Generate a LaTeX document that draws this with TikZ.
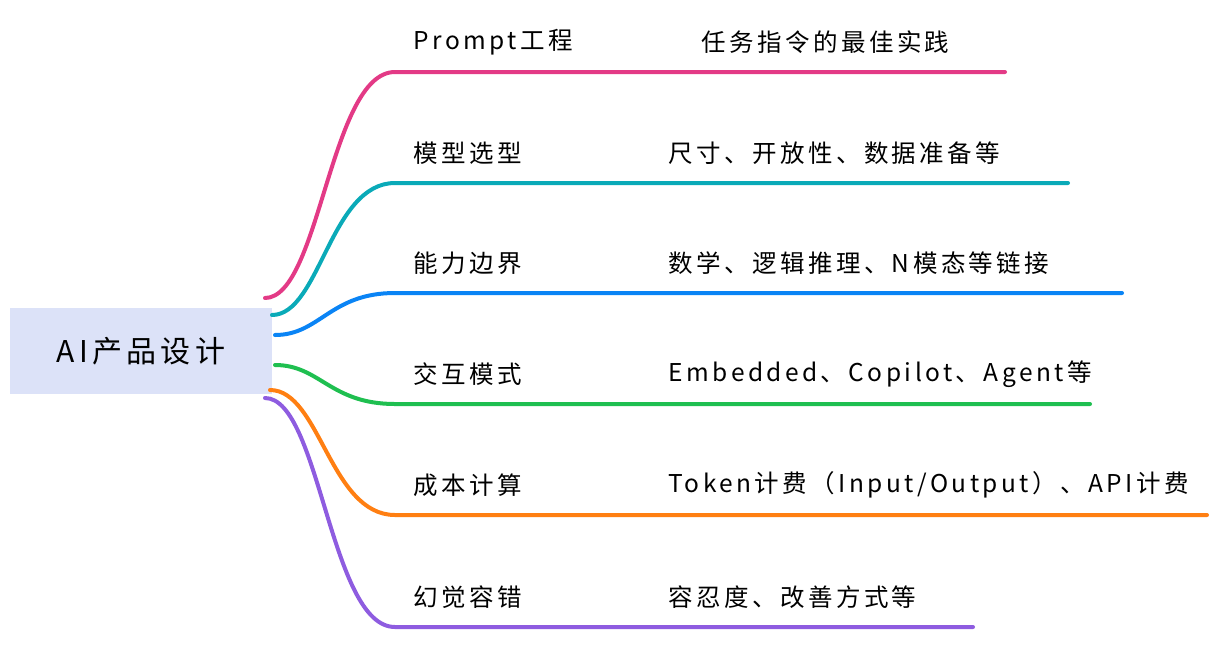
\documentclass[tikz,border=0pt]{standalone}
\usepackage{fontspec}
\setmainfont[LetterSpace=14]{Noto Sans CJK SC}
\usetikzlibrary{positioning}
\definecolor{cpink}{HTML}{E33A86}
\definecolor{cteal}{HTML}{0AAAB8}
\definecolor{cblue}{HTML}{0A84F5}
\definecolor{cgreen}{HTML}{1FBF50}
\definecolor{corange}{HTML}{FF7F12}
\definecolor{cpurple}{HTML}{8E5CE0}
\definecolor{rootfill}{HTML}{DCE2F8}
\tikzset{
  branch/.style={line width=4pt,line cap=round},
  label/.style={anchor=west,font=\fontsize{24.5}{26}\selectfont},
}
\begin{document}
\begin{tikzpicture}[x=1pt,y=-1pt]
  \useasboundingbox (0,0) rectangle (1215,670);
  \node[fill=rootfill,minimum width=262pt,minimum height=86pt,font=\fontsize{30}{32}\selectfont] (root) at (141,351) {AI产品设计};

  \foreach \i/\c/\y/\sx/\sy/\xe/\vx/\ka/\kb in {
      1/cpink/72/265/298/1005/698/{Prompt工程}/{任务指令的最佳实践},
      2/cteal/183/272/315/1068/665/{模型选型}/{尺寸、开放性、数据准备等},
      3/cblue/293/275/335/1122/665/{能力边界}/{数学、逻辑推理、N模态等链接},
      4/cgreen/404/275/365/1090/665/{交互模式}/{Embedded、Copilot、Agent等},
      5/corange/515/270/390/1207/665/{成本计算}/{Token计费（Input{/}Output）、API计费},
      6/cpurple/627/265/398/973/665/{幻觉容错}/{容忍度、改善方式等}}{
    \coordinate (s\i) at (\sx,\sy);
    \coordinate (m\i) at (395,\y);
    \coordinate (e\i) at (\xe,\y);
    \draw[branch,\c] (s\i) .. controls (320,\sy) and (330,\y) .. (m\i) -- (e\i);
    \node[label] (k\i) at (410,\y-30) {\ka};
    \node[label] (v\i) at (\vx,\y-30) {\kb};
  }
\end{tikzpicture}
\end{document}
